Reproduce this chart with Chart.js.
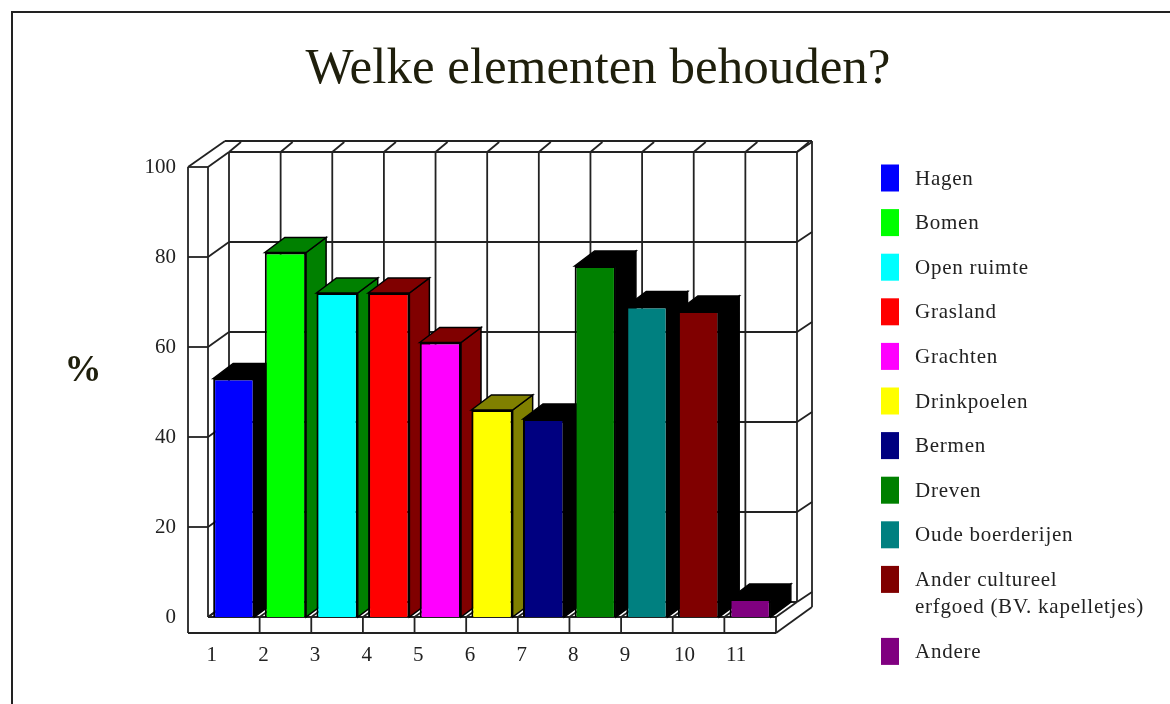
<!DOCTYPE html>
<html>
<head>
<meta charset="utf-8">
<title>Welke elementen behouden?</title>
<script src="https://cdn.jsdelivr.net/npm/chart.js@4"></script>
<style>
    html, body { margin: 0; padding: 0; background: #fff; overflow: hidden; }
    #frame { position: absolute; left: 11px; top: 11px; width: 1159px; height: 693px; border-left: 2px solid #222; border-top: 2px solid #222; box-sizing: border-box; }
    #chart-wrap { position: absolute; left: 26px; top: 0; width: 1144px; height: 704px; }
</style>
</head>
<body>
<div id="frame"></div>
<div id="chart-wrap"><canvas id="chart" width="1144" height="704"></canvas></div>
<script>
// Chart data
const numbers = ['1', '2', '3', '4', '5', '6', '7', '8', '9', '10', '11'];
const percentages = [53, 81, 72, 72, 61, 46, 44, 78, 69, 68, 4];
const legendNames = ['Hagen', 'Bomen', 'Open ruimte', 'Grasland', 'Grachten', 'Drinkpoelen', 'Bermen', 'Dreven', 'Oude boerderijen', ['Ander cultureel', 'erfgoed (BV. kapelletjes)'], 'Andere'];
const frontColors = ['#0000ff', '#00ff00', '#00ffff', '#ff0000', '#ff00ff', '#ffff00', '#000080', '#008000', '#008080', '#800000', '#800080'];
const sideColors = ['#000000', '#008000', '#008000', '#800000', '#800000', '#808000', '#000000', '#000000', '#000000', '#000000', '#000000'];

const SERIF = '"Liberation Serif", serif';
const INK = '#222';

function line(ctx, x1, y1, x2, y2) {
    ctx.beginPath();
    ctx.moveTo(x1, y1);
    ctx.lineTo(x2, y2);
    ctx.stroke();
}

function poly(ctx, pts, fill) {
    ctx.beginPath();
    pts.forEach((p, i) => i ? ctx.lineTo(p[0], p[1]) : ctx.moveTo(p[0], p[1]));
    ctx.closePath();
    ctx.fillStyle = fill;
    ctx.fill();
    ctx.stroke();
}

// The box behind the bars, hung on the chart's own scales
const wallsPlugin = {
    id: 'walls',
    beforeDatasetsDraw(chart) {
        const ctx = chart.ctx;
        const { x: xs, y: ys } = chart.scales;
        const dx = 21, dy = 15;
        const left = xs.left, right = xs.right;
        const top = ys.getPixelForValue(100), floor = ys.getPixelForValue(0);
        const step = (right - left) / numbers.length;
        const backTop = top - dy, backFloor = floor - dy, backLeft = left + dx, backRight = right + dx;
        const outerLeft = left - 20, outerRight = backRight + 15, outerTop = backTop - 11, outerBottom = floor + 16;

        ctx.save();
        ctx.strokeStyle = INK;
        ctx.lineWidth = 1.8;

        // back wall + floor lines
        for (let i = 0; i <= numbers.length; i++) {
            const x = left + i * step;
            line(ctx, x + dx, backTop, x + dx, backFloor);
            line(ctx, x, floor, x + dx, backFloor);
            line(ctx, x + dx, backTop, x + dx + 12, backTop - 10);
            if (i > 0) line(ctx, x, floor, x, outerBottom);
        }
        ys.ticks.forEach(t => {
            const y = ys.getPixelForValue(t.value);
            line(ctx, backLeft, y - dy, backRight, y - dy);
            line(ctx, left, y, backLeft, y - dy);
            line(ctx, backRight, y - dy, outerRight, y - dy - 10);
            if (t.value > 0) line(ctx, outerLeft, y, left, y);
        });

        // front strips and outer edges
        line(ctx, left, top, left, floor);
        line(ctx, left, floor, right, floor);
        line(ctx, outerLeft, top, outerLeft, outerBottom);
        line(ctx, outerLeft, outerBottom, right, outerBottom);
        line(ctx, outerLeft, top, backLeft - 4, outerTop);
        line(ctx, backLeft - 4, outerTop, outerRight, outerTop);
        line(ctx, outerRight, outerTop, outerRight, backFloor + 5);
        line(ctx, outerRight, backFloor + 5, right, outerBottom);

        // bar sides and tops, left to right; the fronts come from the library
        ctx.strokeStyle = '#000';
        ctx.lineWidth = 1.5;
        chart.getDatasetMeta(0).data.forEach((bar, i) => {
            const l = bar.x - bar.width / 2, r = bar.x + bar.width / 2;
            poly(ctx, [[r, bar.y], [r + dx - 1, bar.y - dy], [r + dx - 1, bar.base - dy], [r, bar.base]], sideColors[i]);
            poly(ctx, [[l, bar.y], [l + dx - 1, bar.y - dy], [r + dx - 1, bar.y - dy], [r, bar.y]], sideColors[i]);
        });
        ctx.restore();
    }
};

// Legend column and the upright % label
const sideTextPlugin = {
    id: 'sideText',
    afterDraw(chart) {
        const ctx = chart.ctx;
        ctx.save();
        ctx.textBaseline = 'middle';
        ctx.fillStyle = '#1f1f0c';
        ctx.font = 'bold 37px ' + SERIF;
        ctx.textAlign = 'center';
        ctx.fillText('%', 57, 371);

        ctx.textAlign = 'left';
        ctx.font = '21px ' + SERIF;
        ctx.letterSpacing = '0.75px';
        let y = 178;
        legendNames.forEach((name, i) => {
            const lines = Array.isArray(name) ? name : [name];
            ctx.fillStyle = frontColors[i];
            ctx.fillRect(855, y - 13.5, 18, 27);
            ctx.fillStyle = INK;
            lines.forEach((txt, k) => ctx.fillText(txt, 889, y + 1 + k * 27));
            y += lines.length > 1 ? 72 : 44.6;
        });
        ctx.restore();
    }
};

new Chart(document.getElementById('chart'), {
    type: 'bar',
    data: {
        labels: numbers,
        datasets: [{
            data: percentages,
            backgroundColor: frontColors,
            borderColor: '#000',
            borderWidth: 2,
            barPercentage: 0.8,
            categoryPercentage: 1
        }]
    },
    plugins: [wallsPlugin, sideTextPlugin],
    options: {
        responsive: false,
        animation: false,
        plugins: {
            legend: { display: false },
            tooltip: { enabled: false },
            title: {
                display: true,
                text: 'Welke elementen behouden?',
                color: '#1f1f0c',
                font: { family: SERIF, size: 51, weight: 'normal', lineHeight: 1.2 },
                padding: { top: 39.4, bottom: 66.4 }
            }
        },
        scales: {
            x: {
                grid: { display: false },
                border: { display: false },
                afterFit(scale) { scale.height = 87; },
                ticks: {
                    color: INK,
                    font: { family: SERIF, size: 21 },
                    padding: 18,
                    labelOffset: -22,
                    maxRotation: 0,
                    autoSkip: false,
                    // two-digit labels sit a little further right in the original
                    callback(v, i) { return numbers[i].length > 1 ? '   ' + numbers[i] : numbers[i]; }
                }
            },
            y: {
                min: 0,
                max: 100,
                grid: { display: false },
                border: { display: false },
                afterFit(scale) { scale.width = 182; },
                ticks: { stepSize: 20, color: INK, font: { family: SERIF, size: 21 }, padding: 24 }
            },
            // empty axis that keeps the legend column free on the right
            spacer: {
                position: 'right',
                min: 0,
                max: 100,
                grid: { display: false },
                border: { display: false },
                ticks: { display: false },
                afterFit(scale) { scale.width = 394; }
            }
        }
    }
});
</script>
</body>
</html>
